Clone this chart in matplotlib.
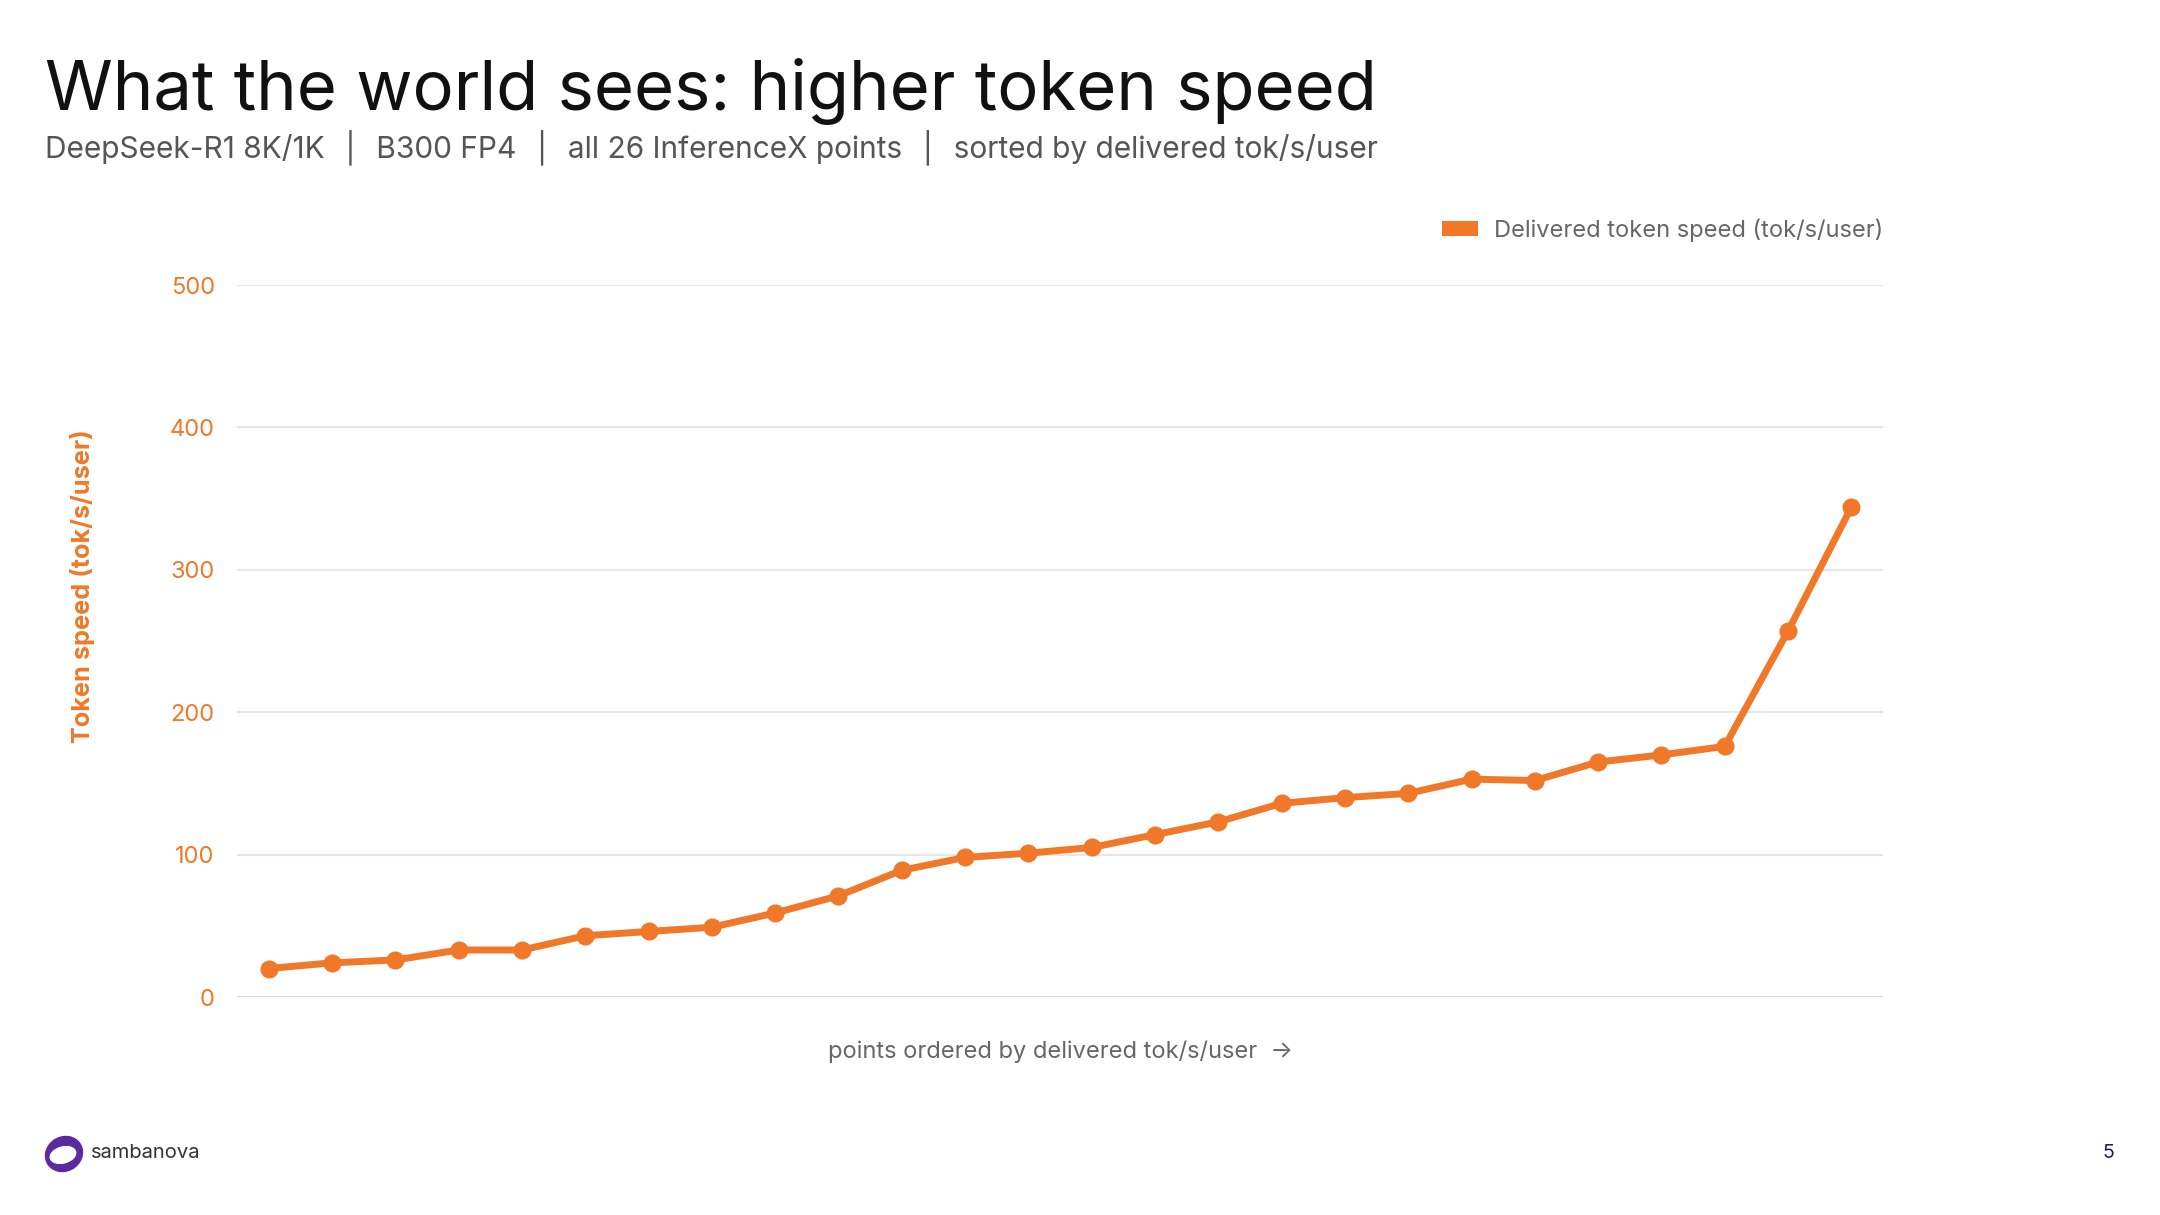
import matplotlib
matplotlib.use("Agg")
import matplotlib.pyplot as plt
from matplotlib.patches import Patch, Ellipse

plt.rcParams['font.family'] = ['Inter', 'DejaVu Sans']

# delivered tok/s/user, sorted ascending (26 InferenceX points)
speeds = [20, 24, 26, 33, 33, 43, 46, 49, 59, 71, 89, 98, 101, 105, 114, 123,
          136, 140, 143, 153, 152, 165, 170, 176, 257, 344]
points = list(range(len(speeds)))
yticks = [0, 100, 200, 300, 400, 500]

orange = '#F07828'
grey = '#666666'

fig = plt.figure(figsize=(21.6, 12.15), dpi=100)
ax = fig.add_axes([237/2160, 1-997/1215, 1646/2160, 712/1215])

ax.plot(points, speeds, color=orange, lw=5, marker='o', markersize=12,
        solid_joinstyle='round', clip_on=False, zorder=3)

ax.set_xlim(-0.5, len(speeds) - 0.5)
ax.set_ylim(0, 500)
ax.set_xticks([])
ax.set_yticks(yticks)
ax.tick_params(axis='y', length=0, pad=16, labelsize=17, labelcolor=orange)
ax.grid(axis='y', color='#e6e6e6', lw=1.5)
ax.set_axisbelow(True)
for s in ax.spines.values():
    s.set_visible(False)
ax.axhline(0, color='#d6d6d6', lw=2, zorder=1)

ax.set_xlabel('points ordered by delivered tok/s/user  →', fontsize=17,
              color=grey, labelpad=31)

fig.text(83/2160, 1-586/1215, 'Token speed (tok/s/user)', rotation=90,
         ha='center', va='center', fontsize=18.2, fontweight='bold', color=orange)

ax.legend(handles=[Patch(facecolor=orange, edgecolor='none')],
          labels=['Delivered token speed (tok/s/user)'],
          loc='center right', bbox_to_anchor=(1.0, 1.077), frameon=False,
          fontsize=17, labelcolor=grey, borderpad=0, borderaxespad=0,
          handlelength=1.55, handleheight=0.6, handletextpad=0.65)

fig.text(45/2160, 1-110/1215, 'What the world sees: higher token speed',
         fontsize=49.5, color='#111111', va='baseline')
fig.text(45/2160, 1-157/1215,
         'DeepSeek-R1 8K/1K  │  B300 FP4  │  all 26 InferenceX points  │  sorted by delivered tok/s/user',
         fontsize=21.5, color='#555555', va='baseline')

# sambanova logo mark
lax = fig.add_axes([43/2160, 1-1174/1215, 42/2160, 40/1215])
lax.set_xlim(0, 42)
lax.set_ylim(0, 40)
lax.axis('off')
lax.add_patch(Ellipse((21, 20), 38, 34, angle=30, color='#5b2a9e'))
lax.add_patch(Ellipse((20, 19), 26, 16, angle=15, color='white'))
fig.text(91/2160, 1-1153/1215, 'sambanova', fontsize=14.5, color='#333333', va='center')
fig.text(2108/2160, 1-1153/1215, '5', fontsize=14, color='#1c1c4a', ha='center', va='center')

fig.savefig('out.png', dpi=100, facecolor='white')
